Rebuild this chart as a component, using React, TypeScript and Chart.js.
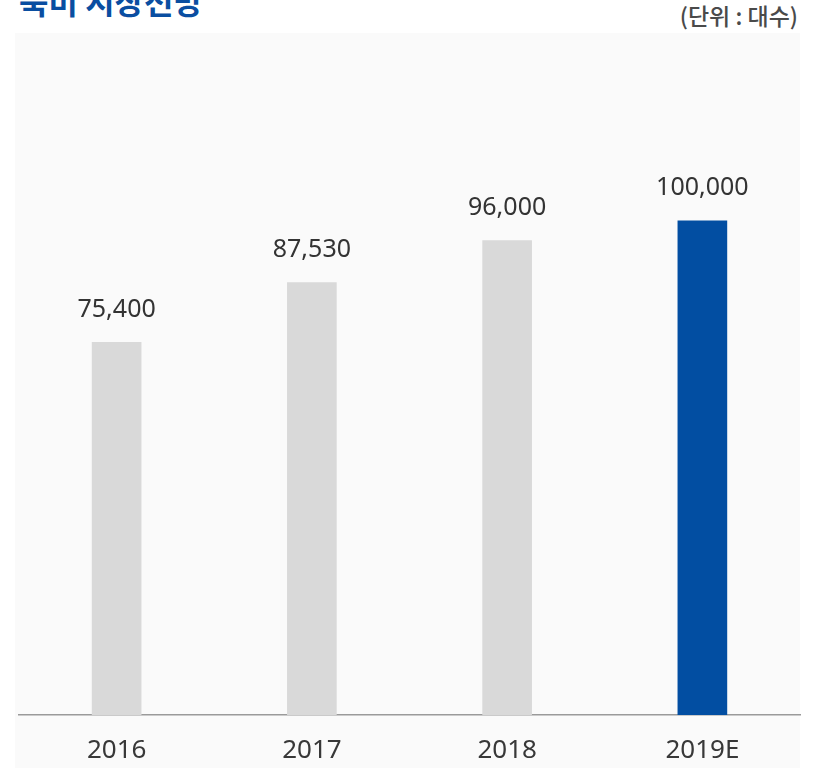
import React, { useEffect, useRef } from "react";
import { Chart, registerables } from "chart.js";

Chart.register(...registerables);

const categories = ["2016", "2017", "2018", "2019E"];
const values = [75400, 87530, 96000, 100000];
const barColors = ["#d9d9d9", "#d9d9d9", "#d9d9d9", "#024ea2"];
const title = "북미 시장전망";
const unitLabel = "(단위 : 대수)";

const valueLabelPlugin = {
  id: "valueLabels",
  afterDatasetsDraw(chart: any) {
    const ctx = chart.ctx;
    const meta = chart.getDatasetMeta(0);
    ctx.save();
    ctx.font = '25px "Noto Sans", sans-serif';
    ctx.fillStyle = "#333333";
    ctx.textAlign = "center";
    ctx.textBaseline = "middle";
    meta.data.forEach((el: any, i: number) => {
      const v = chart.data.datasets[0].data[i] as number;
      ctx.fillText(v.toLocaleString("en-US"), el.x, el.y - 33);
    });
    ctx.restore();
  },
};

export default function App() {
  const ref = useRef<HTMLCanvasElement>(null);
  useEffect(() => {
    if (!ref.current) return;
    const chart = new Chart(ref.current, {
      type: "bar",
      data: {
        labels: categories,
        datasets: [
          {
            data: values,
            backgroundColor: barColors,
            barThickness: 49,
          },
        ],
      },
      options: {
        animation: false,
        responsive: false,
        maintainAspectRatio: false,
        layout: { padding: { left: 19, right: 13, top: 122, bottom: 0 } },
        plugins: { legend: { display: false }, tooltip: { enabled: false } },
        scales: {
          y: { display: false, min: 0, max: 120000 },
          x: {
            grid: { display: false },
            border: { display: true, color: "#9a9a9a", width: 1.5 },
            ticks: {
              color: "#383838",
              font: { family: '"Noto Sans", sans-serif', size: 26 },
              padding: 12,
            },
            afterFit(scale: any) {
              scale.height = 53;
            },
          },
        },
      },
      plugins: [valueLabelPlugin],
    });
    return () => chart.destroy();
  }, []);

  return (
    <div
      style={{
        position: "fixed",
        left: 0,
        top: 0,
        width: 813,
        height: 768,
        background: "#ffffff",
        overflow: "hidden",
      }}
    >
      <div
        style={{
          position: "absolute",
          left: 15,
          top: 33,
          width: 785,
          height: 735,
          background: "#fafafa",
        }}
      />
      <div
        style={{
          position: "absolute",
          left: 19,
          top: -16,
          fontFamily: '"Noto Sans CJK KR", sans-serif',
          fontWeight: 700,
          fontSize: 32,
          lineHeight: 1,
          color: "#0a4ea1",
          whiteSpace: "nowrap",
        }}
      >
        {title}
      </div>
      <div
        style={{
          position: "absolute",
          right: 15,
          top: 4,
          fontFamily: '"Noto Sans CJK KR", sans-serif',
          fontWeight: 500,
          fontSize: 23,
          lineHeight: 1,
          color: "#4a4a4a",
          whiteSpace: "nowrap",
        }}
      >
        {unitLabel}
      </div>
      <canvas
        ref={ref}
        width={813}
        height={768}
        style={{ position: "absolute", left: 0, top: 0, width: 813, height: 768 }}
      />
    </div>
  );
}
